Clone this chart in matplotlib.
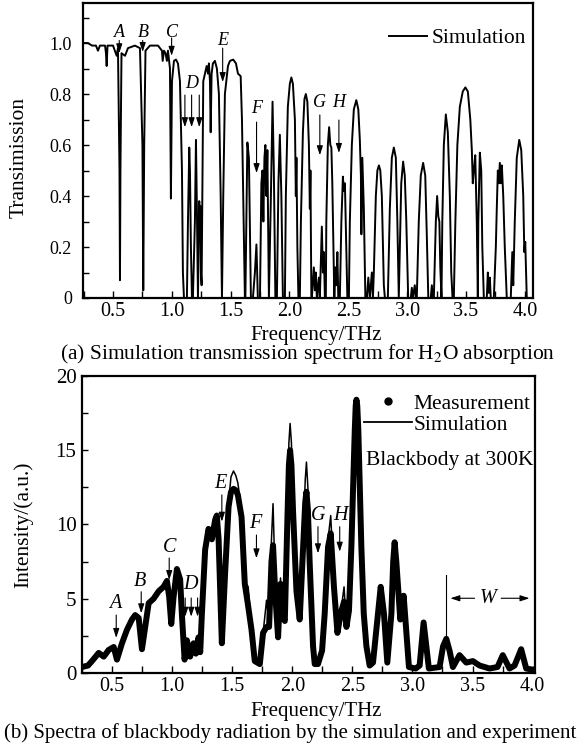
import matplotlib
matplotlib.use("Agg")
import matplotlib.pyplot as plt
from matplotlib.lines import Line2D
from matplotlib.ticker import MultipleLocator, FuncFormatter

plt.rcParams['font.family'] = ['Liberation Serif', 'DejaVu Serif']
plt.rcParams['mathtext.fontset'] = 'stix'

# ---- (a) simulated H2O transmission ----
freq_a = [0.245, 0.287, 0.321, 0.355, 0.372, 0.389, 0.432, 0.440, 0.446, 0.453,
          0.500, 0.531, 0.542, 0.555, 0.559, 0.563, 0.572, 0.602, 0.627, 0.686,
          0.729, 0.750, 0.757, 0.765, 0.776, 0.814, 0.882, 0.916, 0.922, 0.933,
          0.946, 0.958, 0.967, 0.984, 0.992, 1.001, 1.018, 1.035, 1.052, 1.069,
          1.086, 1.094, 1.103, 1.128, 1.137, 1.148, 1.154, 1.162, 1.171, 1.179,
          1.196, 1.205, 1.213, 1.222, 1.233, 1.237, 1.243, 1.247, 1.253, 1.267,
          1.296, 1.307, 1.315, 1.324, 1.330, 1.338, 1.349, 1.366, 1.383, 1.400,
          1.415, 1.426, 1.437, 1.451, 1.477, 1.494, 1.522, 1.545, 1.562, 1.585,
          1.596, 1.607, 1.621, 1.625, 1.642, 1.655, 1.672, 1.689, 1.706, 1.719,
          1.731, 1.749, 1.761, 1.770, 1.778, 1.787, 1.795, 1.804, 1.812, 1.825,
          1.842, 1.856, 1.867, 1.880, 1.893, 1.906, 1.918, 1.931, 1.944, 1.961,
          1.969, 1.986, 2.003, 2.016, 2.029, 2.046, 2.054, 2.059, 2.067, 2.076,
          2.088, 2.097, 2.114, 2.127, 2.139, 2.152, 2.165, 2.173, 2.178, 2.186,
          2.190, 2.207, 2.216, 2.224, 2.233, 2.250, 2.258, 2.267, 2.275, 2.284,
          2.292, 2.301, 2.309, 2.313, 2.326, 2.337, 2.347, 2.356, 2.364, 2.373,
          2.381, 2.390, 2.398, 2.407, 2.415, 2.428, 2.441, 2.454, 2.462, 2.471,
          2.483, 2.492, 2.505, 2.513, 2.530, 2.547, 2.568, 2.585, 2.598, 2.607,
          2.611, 2.619, 2.632, 2.645, 2.658, 2.670, 2.683, 2.700, 2.709, 2.717,
          2.734, 2.747, 2.760, 2.772, 2.785, 2.802, 2.811, 2.836, 2.853, 2.870,
          2.887, 2.904, 2.917, 2.929, 2.938, 2.950, 2.966, 2.980, 2.993, 3.009,
          3.031, 3.040, 3.048, 3.065, 3.074, 3.082, 3.099, 3.116, 3.136, 3.154,
          3.167, 3.180, 3.201, 3.210, 3.218, 3.227, 3.244, 3.255, 3.265, 3.274,
          3.282, 3.292, 3.299, 3.312, 3.329, 3.346, 3.363, 3.375, 3.386, 3.397,
          3.410, 3.427, 3.448, 3.473, 3.495, 3.516, 3.537, 3.550, 3.558, 3.567,
          3.579, 3.592, 3.601, 3.605, 3.618, 3.630, 3.639, 3.652, 3.677, 3.686,
          3.694, 3.703, 3.711, 3.737, 3.754, 3.762, 3.771, 3.779, 3.788, 3.796,
          3.805, 3.817, 3.830, 3.847, 3.864, 3.881, 3.894, 3.902, 3.915, 3.932,
          3.953, 3.970, 3.987, 3.996, 4.004, 4.017, 4.068]
trans_a = [1.00, 1.00, 0.99, 0.99, 0.97, 0.99, 0.99, 0.96, 0.91, 0.99,
           0.99, 0.95, 0.98, 0.50, 0.07, 0.50, 0.96, 0.95, 0.98, 0.99,
           0.98, 0.60, 0.03, 0.60, 0.97, 0.99, 0.99, 0.97, 0.93, 0.97,
           0.96, 0.93, 0.97, 0.90, 0.39, 0.85, 0.93, 0.935, 0.92, 0.85,
           0.50, 0.10, 0.00, 0.00, 0.30, 0.59, 0.50, 0.20, 0.00, 0.00,
           0.30, 0.62, 0.35, 0.00, 0.38, 0.25, 0.36, 0.10, 0.05, 0.85,
           0.91, 0.88, 0.92, 0.85, 0.65, 0.88, 0.92, 0.93, 0.90, 0.80,
           0.40, 0.00, 0.40, 0.80, 0.91, 0.93, 0.935, 0.92, 0.88, 0.87,
           0.70, 0.40, 0.00, 0.00, 0.61, 0.55, 0.00, 0.00, 0.10, 0.21,
           0.00, 0.00, 0.45, 0.50, 0.30, 0.55, 0.60, 0.40, 0.58, 0.00,
           0.40, 0.77, 0.50, 0.00, 0.00, 0.45, 0.64, 0.40, 0.00, 0.00,
           0.40, 0.75, 0.84, 0.865, 0.84, 0.70, 0.40, 0.55, 0.20, 0.00,
           0.00, 0.30, 0.65, 0.78, 0.80, 0.77, 0.60, 0.35, 0.50, 0.00,
           0.00, 0.12, 0.03, 0.10, 0.00, 0.08, 0.00, 0.15, 0.28, 0.10,
           0.18, 0.00, 0.00, 0.30, 0.60, 0.67, 0.60, 0.59, 0.45, 0.20,
           0.00, 0.12, 0.05, 0.18, 0.00, 0.00, 0.30, 0.476, 0.42, 0.45,
           0.20, 0.00, 0.00, 0.30, 0.60, 0.74, 0.776, 0.74, 0.62, 0.48,
           0.25, 0.55, 0.35, 0.00, 0.00, 0.08, 0.00, 0.10, 0.00, 0.10,
           0.40, 0.50, 0.52, 0.50, 0.40, 0.05, 0.00, 0.00, 0.35, 0.55,
           0.59, 0.55, 0.30, 0.00, 0.20, 0.45, 0.535, 0.48, 0.30, 0.00,
           0.00, 0.04, 0.00, 0.05, 0.00, 0.00, 0.30, 0.48, 0.53, 0.48,
           0.25, 0.00, 0.00, 0.05, 0.00, 0.00, 0.30, 0.40, 0.32, 0.30,
           0.12, 0.00, 0.30, 0.60, 0.72, 0.65, 0.40, 0.10, 0.00, 0.00,
           0.30, 0.60, 0.75, 0.81, 0.826, 0.81, 0.70, 0.58, 0.45, 0.50,
           0.56, 0.30, 0.00, 0.30, 0.57, 0.50, 0.20, 0.00, 0.00, 0.10,
           0.02, 0.08, 0.00, 0.00, 0.20, 0.35, 0.50, 0.45, 0.53, 0.45,
           0.52, 0.40, 0.20, 0.00, 0.00, 0.00, 0.18, 0.05, 0.30, 0.55,
           0.62, 0.58, 0.40, 0.18, 0.22, 0.00, 0.00]

# ---- (b) blackbody spectra ----
freq_b = [0.250, 0.300, 0.333, 0.389, 0.431, 0.472, 0.514, 0.541, 0.583, 0.624,
          0.666, 0.693, 0.722, 0.749, 0.776, 0.805, 0.846, 0.888, 0.929, 0.957,
          0.976, 0.993, 1.012, 1.040, 1.067, 1.081, 1.104, 1.123, 1.150, 1.179,
          1.198, 1.220, 1.234, 1.248, 1.275, 1.303, 1.331, 1.358, 1.372, 1.387,
          1.414, 1.441, 1.470, 1.490, 1.511, 1.530, 1.547, 1.578, 1.605, 1.633,
          1.661, 1.688, 1.730, 1.757, 1.786, 1.807, 1.827, 1.840, 1.860, 1.882,
          1.902, 1.919, 1.938, 1.960, 1.972, 1.982, 1.993, 2.007, 2.035, 2.062,
          2.090, 2.108, 2.118, 2.130, 2.145, 2.173, 2.187, 2.214, 2.248, 2.270,
          2.298, 2.320, 2.347, 2.376, 2.403, 2.431, 2.451, 2.472, 2.492, 2.508,
          2.520, 2.528, 2.534, 2.541, 2.550, 2.562, 2.575, 2.595, 2.617, 2.644,
          2.672, 2.713, 2.736, 2.763, 2.791, 2.825, 2.840, 2.852, 2.866, 2.899,
          2.927, 2.971, 3.027, 3.060, 3.093, 3.137, 3.226, 3.255, 3.282, 3.309,
          3.337, 3.392, 3.448, 3.503, 3.559, 3.642, 3.708, 3.752, 3.808, 3.850,
          3.905, 3.947, 4.016]
meas_b = [0.4, 0.5, 0.8, 1.35, 1.1, 1.55, 1.75, 0.9, 2.0, 2.9,
          3.6, 3.9, 3.7, 1.6, 3.1, 4.7, 5.0, 5.5, 5.8, 6.2,
          5.1, 3.3, 5.1, 7.0, 6.3, 4.0, 0.9, 2.2, 1.1, 2.0,
          1.3, 2.4, 1.4, 4.0, 8.3, 9.7, 9.0, 10.3, 10.6, 9.0,
          2.0, 6.7, 11.2, 12.2, 12.4, 12.3, 12.0, 10.5, 6.0, 4.5,
          2.9, 0.8, 0.6, 2.7, 3.1, 3.1, 7.5, 8.6, 5.1, 2.4,
          6.0, 3.8, 3.5, 10.5, 14.0, 15.0, 14.0, 10.8, 5.5, 3.6,
          8.5, 11.5, 12.2, 11.0, 7.4, 1.8, 0.6, 0.6, 1.5, 4.0,
          8.5, 9.4, 5.8, 2.7, 4.0, 4.8, 3.1, 4.2, 8.5, 13.0,
          16.3, 18.0, 18.4, 18.0, 16.3, 12.5, 8.5, 4.0, 1.8, 0.5,
          0.7, 4.0, 5.8, 4.0, 0.7, 4.0, 7.5, 8.8, 7.5, 3.6,
          5.2, 0.4, 0.3, 0.5, 3.4, 0.3, 0.4, 1.8, 2.3, 1.5,
          0.4, 1.2, 0.7, 0.8, 0.5, 0.3, 0.4, 1.2, 0.3, 0.5,
          1.6, 0.3, 0.2]
sim_b = [0.3, 0.4, 0.7, 1.3, 1.1, 1.5, 1.7, 0.9, 2.0, 2.9,
         3.6, 3.9, 3.7, 1.6, 3.1, 4.7, 5.0, 5.5, 5.8, 6.2,
         5.1, 3.3, 5.1, 7.0, 6.3, 4.0, 0.9, 2.2, 1.1, 2.0,
         1.3, 2.4, 1.4, 4.0, 8.3, 9.8, 9.0, 10.3, 10.7, 9.0,
         2.0, 6.7, 11.5, 13.2, 13.6, 13.3, 12.8, 11.0, 6.2, 5.8,
         3.0, 0.8, 0.6, 2.7, 4.9, 3.3, 9.0, 11.4, 5.5, 2.5,
         6.4, 4.0, 3.8, 10.8, 15.5, 16.8, 15.5, 11.5, 5.8, 3.7,
         8.8, 13.0, 14.2, 12.5, 7.8, 1.8, 0.6, 0.6, 1.5, 4.0,
         9.0, 10.6, 6.0, 2.7, 4.0, 5.8, 3.1, 4.2, 8.5, 13.0,
         16.3, 18.0, 18.4, 18.0, 16.3, 12.5, 8.5, 4.0, 1.8, 0.5,
         0.7, 4.0, 5.8, 4.0, 0.7, 4.0, 7.5, 8.8, 7.5, 3.6,
         5.2, 0.4, 0.3, 0.5, 3.4, 0.3, 0.4, 1.8, 2.3, 1.5,
         0.4, 1.2, 0.7, 0.8, 0.5, 0.3, 0.4, 1.2, 0.3, 0.5,
         1.6, 0.3, 0.2]

# marker letters: (label, text x, text y, arrow x list, arrow top, arrow tip)
marks_a = [("A", 0.553, 1.04, [0.553], 1.01, 0.96),
           ("B", 0.760, 1.04, [0.752], 1.01, 0.965),
           ("C", 1.005, 1.04, [0.998], 1.02, 0.95),
           ("D", 1.165, 0.84, [1.111, 1.168, 1.233], 0.796, 0.67),
           ("E", 1.432, 1.009, [1.432], 0.98, 0.847),
           ("F", 1.720, 0.745, [1.720], 0.69, 0.49),
           ("G", 2.258, 0.765, [2.258], 0.718, 0.56),
           ("H", 2.422, 0.765, [2.420], 0.698, 0.569)]
marks_b = [("A", 0.527, 4.69, [0.535], 3.9, 2.36),
           ("B", 0.735, 6.15, [0.743], 5.47, 4.02),
           ("C", 0.976, 8.46, [0.976], 7.74, 6.26),
           ("D", 1.150, 5.93, [1.109, 1.159, 1.212], 5.05, 3.79),
           ("E", 1.400, 12.77, [1.414], 11.99, 10.19),
           ("F", 1.694, 10.08, [1.702], 9.29, 7.72),
           ("G", 2.214, 10.57, [2.214], 9.85, 8.06),
           ("H", 2.403, 10.57, [2.395], 9.85, 8.17)]

FS = 15.5      # labels, captions, legends
FT = 14.5      # x tick labels
fig = plt.figure(figsize=(5.81, 7.51), dpi=100)
ax1 = fig.add_axes([0.1429, 0.6032, 0.7745, 0.3928])
ax2 = fig.add_axes([0.1411, 0.1039, 0.7797, 0.3955])

ax1.plot(freq_a, trans_a, color="k", lw=1.4, label="Simulation")
ax1.set_xlim(0.245, 4.07)
ax1.set_ylim(0, 1.157)
ax1.yaxis.set_major_locator(MultipleLocator(0.2))
ax1.yaxis.set_minor_locator(MultipleLocator(0.1))
ax1.yaxis.set_major_formatter(FuncFormatter(lambda v, p: "0" if abs(v) < 1e-9 else "%.1f" % v))
ax1.legend(loc="center right", bbox_to_anchor=(0.985, 0.881), frameon=False,
           fontsize=FS, handlelength=1.72, handletextpad=0.25, borderpad=0, borderaxespad=0)

ax2.plot(freq_b, meas_b, color="k", lw=4.3, solid_capstyle="round", solid_joinstyle="round")
ax2.plot(freq_b, sim_b, color="k", lw=1.1)
ax2.set_xlim(0.25, 4.02)
ax2.set_ylim(0, 20)
ax2.yaxis.set_major_locator(MultipleLocator(5))
ax2.yaxis.set_minor_locator(MultipleLocator(2.5))
handles = [Line2D([], [], color="k", marker="o", ls="none", markersize=5),
           Line2D([], [], color="k", lw=1.3)]
ax2.legend(handles, ["Measurement", "Simulation"], loc="upper left",
           bbox_to_anchor=(0.623, 0.94), frameon=False, fontsize=FS,
           handlelength=2.2, handletextpad=0.1, borderpad=0, borderaxespad=0,
           labelspacing=0.05)
ax2.text(0.628, 0.717, "Blackbody at 300K", transform=ax2.transAxes,
         fontsize=FS, va="center", ha="left")

for ax in (ax1, ax2):
    ax.xaxis.set_major_locator(MultipleLocator(0.5))
    ax.xaxis.set_minor_locator(MultipleLocator(0.25))
    ax.xaxis.set_major_formatter(FuncFormatter(lambda v, p: "%.1f" % v))
    ax.tick_params(which="both", direction="in", top=False, right=False, width=1.0)
    ax.tick_params(axis="x", which="both", length=5, pad=3, labelsize=FT)
    for s in ax.spines.values():
        s.set_linewidth(1.6)
ax1.tick_params(axis="y", which="both", length=4, pad=8, labelsize=13)
ax2.tick_params(axis="y", which="both", length=4, pad=4, labelsize=15)

arrow_kw = dict(arrowstyle="-|>,head_length=0.55,head_width=0.18", color="k",
                lw=0.8, shrinkA=0, shrinkB=0)
for ax, marks, fl in ((ax1, marks_a, 13), (ax2, marks_b, 14.5)):
    for lab, tx, ty, xs, y0, y1 in marks:
        ax.text(tx, ty, lab, fontsize=fl, fontstyle="italic", ha="center", va="center")
        for xa in xs:
            ax.annotate("", xy=(xa, y1), xytext=(xa, y0), arrowprops=arrow_kw)

# W band
ax2.plot([3.282, 3.282], [2.44, 6.6], color="k", lw=0.8)
ax2.annotate("", xy=(3.316, 5.03), xytext=(3.517, 5.03), arrowprops=arrow_kw)
ax2.annotate("", xy=(3.974, 5.03), xytext=(3.739, 5.03), arrowprops=arrow_kw)
ax2.text(3.628, 5.03, "W", fontsize=14.5, fontstyle="italic", ha="center", va="center")

# axis titles and captions
fig.text(316 / 581, 1 - 340 / 751, "Frequency/THz", fontsize=15, ha="center", va="baseline")
fig.text(308 / 581, 1 - 359 / 751, "(a) Simulation transmission spectrum for H$_2$O absorption",
         fontsize=FS, ha="center", va="baseline")
fig.text(316 / 581, 1 - 716 / 751, "Frequency/THz", fontsize=15, ha="center", va="baseline")
fig.text(290 / 581, 1 - 738 / 751, "(b) Spectra of blackbody radiation by the simulation and experiment",
         fontsize=15, ha="center", va="baseline")
fig.text(19.5 / 581, 1 - 158 / 751, "Transimission", fontsize=FS, rotation=90, ha="center", va="center")
fig.text(23 / 581, 1 - 525 / 751, "Intensity/(a.u.)", fontsize=FS, rotation=90, ha="center", va="center")

fig.savefig("out.png", dpi=100)
